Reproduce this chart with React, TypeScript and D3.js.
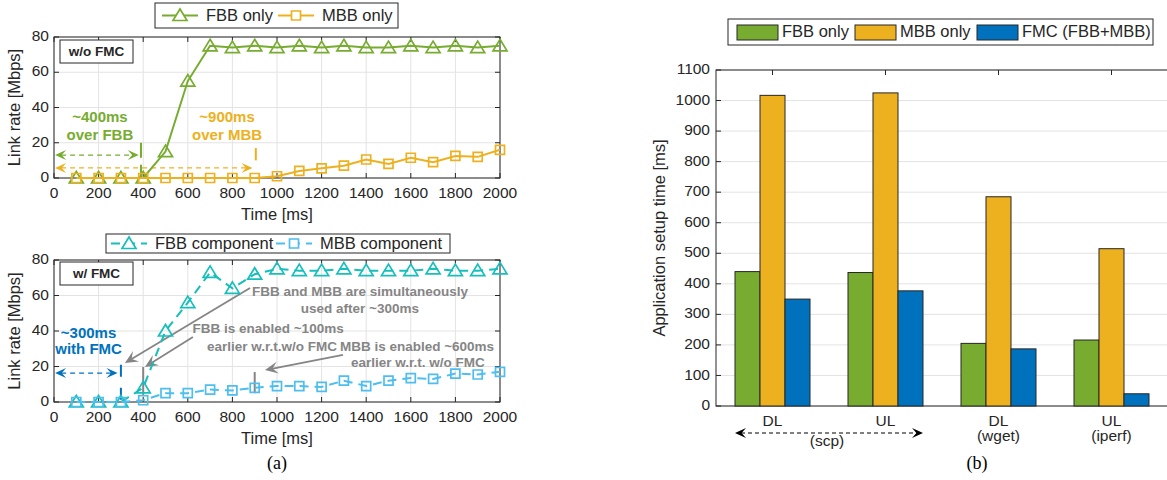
import React, { useRef, useEffect } from 'react';
import * as d3 from 'd3';

// (a) link rate over time
const timeMs = [100, 200, 300, 400, 500, 600, 700, 800, 900, 1000, 1100, 1200, 1300, 1400, 1500, 1600, 1700, 1800, 1900, 2000];
const fbbOnly = [0, 0, 0, 0, 15, 55, 75, 74, 75, 74, 75, 74, 75, 74, 74, 75, 74, 75, 74, 75];
const mbbOnly = [0, 0, 0, 0, 0, 0, 0, 0, 0, 1, 4, 5.5, 7, 10.5, 8, 11.5, 9, 12.5, 12, 16];
const fbbComponent = [0, 0, 0, 8, 40, 56, 73, 64, 72, 75, 74, 74, 75, 74, 74, 74, 75, 74, 74, 75];
const mbbComponent = [0, 0, 0, 1, 5, 5, 7, 6.5, 8, 9, 9, 8.5, 12, 9, 12, 13.5, 13, 16, 15.5, 17];
const timeTicks = [0, 200, 400, 600, 800, 1000, 1200, 1400, 1600, 1800, 2000];
const rateTicks = [0, 20, 40, 60, 80];

// (b) application setup time
const appNames = ['DL', 'UL', 'DL', 'UL'];
const appTools = ['', '', '(wget)', '(iperf)'];
const setupFbb = [440, 437, 205, 216];
const setupMbb = [1017, 1025, 685, 515];
const setupFmc = [350, 377, 187, 40];
const setupTicks = [0, 100, 200, 300, 400, 500, 600, 700, 800, 900, 1000, 1100];

const GREEN = '#77AC30';
const YELLOW = '#EDB120';
const BLUE = '#0072BD';
const TEAL = '#17BEBB';
const SKY = '#4DBEEE';
const GRAY = '#858585';
const AXIS = '#262626';
const GRID = '#e3e3e3';
const FONT = '"Liberation Sans", Arial, sans-serif';
const TICK_FS = 15.5;

const TRI = 'M0,-6.5L7,5L-7,5Z';
const SQR = 'M-4.5,-4.5h9v9h-9Z';

type Sel = d3.Selection<SVGGElement, unknown, null, undefined>;

function arrowHead(g: Sel, x1: number, y1: number, x2: number, y2: number, color: string, len = 10, half = 5) {
  const a = Math.atan2(y2 - y1, x2 - x1);
  const c = Math.cos(a), s = Math.sin(a);
  const p = (dx: number, dy: number) => `${x2 + dx * c - dy * s},${y2 + dx * s + dy * c}`;
  g.append('path')
    .attr('d', `M${p(0, 0)}L${p(-len, -half)}L${p(-len * 0.6, 0)}L${p(-len, half)}Z`)
    .attr('fill', color);
}

function axesFrame(g: Sel, x: d3.ScaleLinear<number, number>, y: d3.ScaleLinear<number, number>) {
  const [l, r] = x.range();
  const [b, t] = y.range();
  timeTicks.forEach(v => {
    g.append('line').attr('x1', x(v)).attr('x2', x(v)).attr('y1', t).attr('y2', b).attr('stroke', GRID);
  });
  rateTicks.forEach(v => {
    g.append('line').attr('x1', l).attr('x2', r).attr('y1', y(v)).attr('y2', y(v)).attr('stroke', GRID);
  });
  g.append('rect').attr('x', l).attr('y', t).attr('width', r - l).attr('height', b - t)
    .attr('fill', 'none').attr('stroke', AXIS).attr('stroke-width', 1);
  timeTicks.forEach(v => {
    g.append('line').attr('x1', x(v)).attr('x2', x(v)).attr('y1', b).attr('y2', b - 5).attr('stroke', AXIS);
    g.append('line').attr('x1', x(v)).attr('x2', x(v)).attr('y1', t).attr('y2', t + 5).attr('stroke', AXIS);
    g.append('text').attr('x', x(v)).attr('y', b + 16).attr('text-anchor', 'middle')
      .attr('dominant-baseline', 'middle').attr('font-size', TICK_FS).attr('fill', AXIS).text(v);
  });
  rateTicks.forEach(v => {
    g.append('line').attr('x1', l).attr('x2', l + 5).attr('y1', y(v)).attr('y2', y(v)).attr('stroke', AXIS);
    g.append('line').attr('x1', r).attr('x2', r - 5).attr('y1', y(v)).attr('y2', y(v)).attr('stroke', AXIS);
    g.append('text').attr('x', l - 5).attr('y', y(v)).attr('text-anchor', 'end')
      .attr('dominant-baseline', 'middle').attr('font-size', TICK_FS).attr('fill', AXIS).text(v);
  });
  g.append('text').attr('x', (l + r) / 2).attr('y', b + 38).attr('text-anchor', 'middle')
    .attr('dominant-baseline', 'middle').attr('font-size', 16.5).attr('fill', AXIS).text('Time [ms]');
  g.append('text').attr('transform', `translate(16,${(t + b) / 2}) rotate(-90)`).attr('text-anchor', 'middle')
    .attr('dominant-baseline', 'middle').attr('font-size', 16.5).attr('fill', AXIS).text('Link rate [Mbps]');
}

function series(g: Sel, x: d3.ScaleLinear<number, number>, y: d3.ScaleLinear<number, number>,
  vals: number[], color: string, marker: string, dash: string | null) {
  const line = d3.line<number>().x((_, i) => x(timeMs[i])).y(d => y(d));
  g.append('path').attr('d', line(vals)).attr('fill', 'none').attr('stroke', color)
    .attr('stroke-width', 2).attr('stroke-dasharray', dash);
  g.selectAll(null).data(vals).join('path')
    .attr('transform', (d, i) => `translate(${x(timeMs[i])},${y(d)})`)
    .attr('d', marker).attr('fill', 'none').attr('stroke', color).attr('stroke-width', 1.7);
}

function tagBox(g: Sel, x0: number, y0: number, label: string) {
  g.append('rect').attr('x', x0).attr('y', y0).attr('width', 73).attr('height', 23)
    .attr('fill', '#fff').attr('stroke', AXIS);
  g.append('text').attr('x', x0 + 36.5).attr('y', y0 + 12).attr('text-anchor', 'middle')
    .attr('dominant-baseline', 'middle').attr('font-size', 13.5).attr('font-weight', 'bold')
    .attr('fill', AXIS).text(label);
}

function legendLine(g: Sel, x0: number, cy: number, color: string, marker: string, dash: string | null, label: string) {
  g.append('line').attr('x1', x0).attr('x2', x0 + 36).attr('y1', cy).attr('y2', cy)
    .attr('stroke', color).attr('stroke-width', 2).attr('stroke-dasharray', dash);
  g.append('path').attr('transform', `translate(${x0 + 18},${cy})`).attr('d', marker)
    .attr('fill', '#fff').attr('stroke', color).attr('stroke-width', 1.7);
  g.append('text').attr('x', x0 + 44).attr('y', cy + 1).attr('dominant-baseline', 'middle')
    .attr('font-size', 16.5).attr('fill', AXIS).text(label);
}

export default function App() {
  const ref = useRef<SVGSVGElement | null>(null);

  useEffect(() => {
    const svg = d3.select(ref.current);
    svg.selectAll('*').remove();
    const root = svg.append('g').attr('font-family', FONT) as Sel;

    // ---------- (a) top: w/o FMC ----------
    const xt = d3.scaleLinear().domain([0, 2000]).range([54, 500]);
    const yt = d3.scaleLinear().domain([0, 80]).range([178, 37]);
    const top = root.append('g') as Sel;
    axesFrame(top, xt, yt);

    top.append('rect').attr('x', 155).attr('y', 3).attr('width', 243).attr('height', 25)
      .attr('fill', '#fff').attr('stroke', AXIS);
    legendLine(top, 162, 15.5, GREEN, TRI, null, 'FBB only');
    legendLine(top, 278, 15.5, YELLOW, SQR, null, 'MBB only');

    tagBox(top, 60, 40, 'w/o FMC');

    // annotations
    const ann = (g: Sel, tx: number, ty: number, txt: string, color: string, size = 15) =>
      g.append('text').attr('x', tx).attr('y', ty).attr('text-anchor', 'middle')
        .attr('dominant-baseline', 'middle').attr('font-size', size).attr('font-weight', 'bold')
        .attr('fill', color).text(txt);
    ann(top, xt(206), yt(34), '~400ms', GREEN);
    ann(top, xt(206), yt(23.8), 'over FBB', GREEN);
    ann(top, xt(776), yt(34), '~900ms', YELLOW);
    ann(top, xt(776), yt(23.8), 'over MBB', YELLOW);

    const dashArrow = (g: Sel, xa: number, xb: number, yv: number, color: string) => {
      g.append('line').attr('x1', xa + 6).attr('x2', xb - 6).attr('y1', yv).attr('y2', yv)
        .attr('stroke', color).attr('stroke-width', 1.3).attr('stroke-dasharray', '5,4');
      arrowHead(g, xb, yv, xa, yv, color, 11, 5);
      arrowHead(g, xa, yv, xb, yv, color, 11, 5);
    };
    const vMark = (g: Sel, xv: number, y1: number, y2: number, color: string, dash: string | null) =>
      g.append('line').attr('x1', xv).attr('x2', xv).attr('y1', y1).attr('y2', y2)
        .attr('stroke', color).attr('stroke-width', 2).attr('stroke-dasharray', dash);

    dashArrow(top, xt(5), xt(380), yt(13), GREEN);
    vMark(top, xt(390), yt(20), yt(0.5), GREEN, '15,7');
    dashArrow(top, xt(5), xt(890), yt(5.7), YELLOW);
    vMark(top, xt(905), yt(17), yt(10), YELLOW, null);

    series(top, xt, yt, fbbOnly, GREEN, TRI, null);
    series(top, xt, yt, mbbOnly, YELLOW, SQR, null);

    // ---------- (a) bottom: w/ FMC ----------
    const xb = d3.scaleLinear().domain([0, 2000]).range([54, 500]);
    const yb = d3.scaleLinear().domain([0, 80]).range([402, 260]);
    const bot = root.append('g') as Sel;
    axesFrame(bot, xb, yb);

    bot.append('rect').attr('x', 106).attr('y', 234).attr('width', 344).attr('height', 19)
      .attr('fill', '#fff').attr('stroke', AXIS);
    legendLine(bot, 111, 243.5, TEAL, TRI, '9,6', 'FBB component');
    legendLine(bot, 276, 243.5, SKY, SQR, '9,6', 'MBB component');

    tagBox(bot, 60, 262, 'w/ FMC');

    ann(bot, xb(155), yb(38.5), '~300ms', BLUE);
    ann(bot, xb(155), yb(29), 'with FMC', BLUE);
    dashArrow(bot, xb(5), xb(285), yb(16.3), BLUE);
    vMark(bot, xb(300), yb(21), yb(0.5), BLUE, '12,11');
    vMark(bot, xb(400), yb(19.7), yb(4), GRAY, null);
    vMark(bot, xb(900), yb(16.9), yb(5), GRAY, null);

    const grayArrow = (g: Sel, a: [number, number], b: [number, number]) => {
      const [x1, y1, x2, y2] = [xb(a[0]), yb(a[1]), xb(b[0]), yb(b[1])];
      g.append('line').attr('x1', x1).attr('y1', y1).attr('x2', x2 + (x1 - x2) * 0.05).attr('y2', y2 + (y1 - y2) * 0.05)
        .attr('stroke', GRAY).attr('stroke-width', 1.8);
      arrowHead(g, x1, y1, x2, y2, GRAY, 13, 6);
    };
    grayArrow(bot, [879, 64.2], [318, 22]);
    grayArrow(bot, [623, 36.6], [408, 19.7]);
    grayArrow(bot, [1296, 26.5], [946, 18]);

    series(bot, xb, yb, fbbComponent, TEAL, TRI, '9,6');
    series(bot, xb, yb, mbbComponent, SKY, SQR, '9,6');

    ann(bot, xb(1372), yb(62), 'FBB and MBB are simultaneously', GRAY, 13.5);
    ann(bot, xb(1372), yb(52.4), 'used after ~300ms', GRAY, 13.5);
    ann(bot, xb(960), yb(40.6), 'FBB is enabled ~100ms', GRAY, 13.5);
    ann(bot, xb(978), yb(31), 'earlier w.r.t.w/o FMC', GRAY, 13.5);
    ann(bot, xb(1628), yb(31), 'MBB is enabled ~600ms', GRAY, 13.5);
    ann(bot, xb(1632), yb(22), 'earlier w.r.t. w/o FMC', GRAY, 13.5);

    root.append('text').attr('x', 277).attr('y', 465).attr('text-anchor', 'middle')
      .attr('dominant-baseline', 'middle').attr('font-family', '"Liberation Serif", serif')
      .attr('font-size', 18).attr('fill', '#000').text('(a)');

    // ---------- (b) application setup time ----------
    const right = root.append('g') as Sel;
    const xc = d3.scaleBand<number>().domain(d3.range(appNames.length)).range([716, 1168]);
    const xs = d3.scaleBand<string>().domain(['fbb', 'mbb', 'fmc']).range([0, 75]);
    const yc = d3.scaleLinear().domain([0, 1100]).range([406, 70]);
    const [l, r] = xc.range();
    const groupOff = (xc.bandwidth() - 75) / 2;

    setupTicks.forEach(v => {
      right.append('line').attr('x1', l).attr('x2', r).attr('y1', yc(v)).attr('y2', yc(v)).attr('stroke', GRID);
    });
    right.append('rect').attr('x', l).attr('y', yc(1100)).attr('width', r - l).attr('height', yc(0) - yc(1100))
      .attr('fill', 'none').attr('stroke', AXIS);

    const groups: [string, number[], string][] = [['fbb', setupFbb, GREEN], ['mbb', setupMbb, YELLOW], ['fmc', setupFmc, BLUE]];
    groups.forEach(([key, vals, color]) => {
      right.selectAll(null).data(vals).join('rect')
        .attr('x', (_, i) => xc(i)! + groupOff + xs(key)!)
        .attr('y', d => yc(d))
        .attr('width', xs.bandwidth())
        .attr('height', d => yc(0) - yc(d))
        .attr('fill', color).attr('stroke', AXIS).attr('stroke-width', 1);
    });

    setupTicks.forEach(v => {
      right.append('line').attr('x1', l).attr('x2', l + 5).attr('y1', yc(v)).attr('y2', yc(v)).attr('stroke', AXIS);
      right.append('text').attr('x', l - 6).attr('y', yc(v)).attr('text-anchor', 'end')
        .attr('dominant-baseline', 'middle').attr('font-size', TICK_FS).attr('fill', AXIS).text(v);
    });
    appNames.forEach((name, i) => {
      const cx = xc(i)! + xc.bandwidth() / 2;
      right.append('line').attr('x1', cx).attr('x2', cx).attr('y1', yc(1100)).attr('y2', yc(1100) + 5).attr('stroke', AXIS);
      right.append('text').attr('x', cx).attr('y', 422).attr('text-anchor', 'middle')
        .attr('dominant-baseline', 'middle').attr('font-size', TICK_FS).attr('fill', AXIS).text(name);
      if (appTools[i]) {
        right.append('text').attr('x', cx).attr('y', 437).attr('text-anchor', 'middle')
          .attr('dominant-baseline', 'middle').attr('font-size', TICK_FS).attr('fill', AXIS).text(appTools[i]);
      }
    });
    // shared "(scp)" bracket for the first two groups
    const s0 = xc(0)! + groupOff, s1 = xc(1)! + groupOff + 75;
    right.append('line').attr('x1', s0 + 6).attr('x2', s1 - 6).attr('y1', 433).attr('y2', 433)
      .attr('stroke', '#000').attr('stroke-width', 1.2).attr('stroke-dasharray', '4,3');
    arrowHead(right, s1, 433, s0, 433, '#000', 11, 5);
    arrowHead(right, s0, 433, s1, 433, '#000', 11, 5);
    right.append('text').attr('x', (s0 + s1) / 2 - 2).attr('y', 442).attr('text-anchor', 'middle')
      .attr('dominant-baseline', 'middle').attr('font-size', TICK_FS).attr('fill', AXIS).text('(scp)');

    right.append('text').attr('transform', `translate(661,${(yc(0) + yc(1100)) / 2}) rotate(-90)`)
      .attr('text-anchor', 'middle').attr('dominant-baseline', 'middle').attr('font-size', 16.5)
      .attr('fill', AXIS).text('Application setup time [ms]');

    // legend
    right.append('rect').attr('x', 728).attr('y', 19).attr('width', 425).attr('height', 26)
      .attr('fill', '#fff').attr('stroke', AXIS);
    const legItems: [string, string, number][] = [['FBB only', GREEN, 737], ['MBB only', YELLOW, 855], ['FMC (FBB+MBB)', BLUE, 977]];
    legItems.forEach(([label, color, lx]) => {
      right.append('rect').attr('x', lx).attr('y', 25).attr('width', 41).attr('height', 15)
        .attr('fill', color).attr('stroke', AXIS);
      right.append('text').attr('x', lx + 45).attr('y', 33).attr('dominant-baseline', 'middle')
        .attr('font-size', 16.5).attr('fill', AXIS).text(label);
    });

    root.append('text').attr('x', 977).attr('y', 465).attr('text-anchor', 'middle')
      .attr('dominant-baseline', 'middle').attr('font-family', '"Liberation Serif", serif')
      .attr('font-size', 18).attr('fill', '#000').text('(b)');
  }, []);

  return (
    <svg ref={ref} width={1167} height={480}
      style={{ position: 'absolute', left: 0, top: 0, background: '#fff' }} />
  );
}
